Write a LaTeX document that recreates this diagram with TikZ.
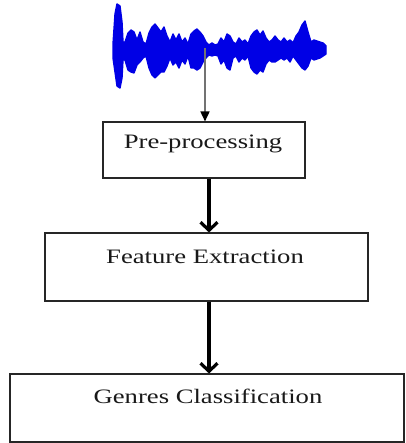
\documentclass[tikz,border=0pt]{standalone}
\usepackage{fontspec}
\setmainfont{Liberation Serif}
\usetikzlibrary{arrows.meta,shadows}
\begin{document}
\begin{tikzpicture}[x=1pt,y=-1pt,
  stagebox/.style={draw=black!85,line width=1.1pt,fill=white,inner sep=0pt,
     drop shadow={opacity=0.35,shadow xshift=1.2pt,shadow yshift=-1.2pt}},
  stagetext/.style={anchor=base,inner sep=0pt,text=black!90,font=\fontsize{20.5}{24}\selectfont},
  thinarrow/.style={draw=black!55,line width=1.6pt,-{Triangle[length=10pt,width=9pt,color=black]}},
  thickarrow/.style={draw=black,line width=3.6pt,-{Straight Barb[length=8pt,width=17pt,line width=3.2pt]}},
  wave/.style={fill=blue!90!black,draw=blue!90!black,line width=1.4pt,line join=round}]
\useasboundingbox (0,0) rectangle (405,443);
% waveform
\filldraw[wave] (113,44)--(115,14)--(117,4)--(120,6)--(122,22)--(123,42)--(125,42)--(128,33)--(131,30)--(134,32)--(137,40)--(140,32)--(143,42)--(146,44)--(149,33)--(152,27)--(155,24)--(158,28)--(161,32)--(164,27)--(167,36)--(170,42)--(173,34)--(176,40)--(179,34)--(182,42)--(185,38)--(188,44)--(191,34)--(194,31)--(197,29)--(200,32)--(203,36)--(206,42)--(209,45)--(212,43)--(215,45)--(218,44)--(221,38)--(224,42)--(227,34)--(230,36)--(233,42)--(236,44)--(239,38)--(242,42)--(245,40)--(248,44)--(251,36)--(254,32)--(257,30)--(260,35)--(263,31)--(266,38)--(269,42)--(272,40)--(275,36)--(278,40)--(281,42)--(284,38)--(287,42)--(290,40)--(293,43)--(296,36)--(299,32)--(302,25)--(305,21)--(308,32)--(311,42)--(314,40)--(317,41)--(320,42)--(323,43)--(326,46)
 --(326,54)--(323,56)--(320,58)--(317,59)--(314,60)--(311,58)--(308,66)--(305,70)--(302,68)--(299,64)--(296,60)--(293,56)--(290,62)--(287,58)--(284,60)--(281,58)--(278,60)--(275,62)--(272,62)--(269,60)--(266,64)--(263,72)--(260,70)--(257,74)--(254,72)--(251,68)--(248,56)--(245,60)--(242,58)--(239,62)--(236,56)--(233,58)--(230,70)--(227,68)--(224,60)--(221,64)--(218,56)--(215,55)--(212,56)--(209,55)--(206,58)--(203,62)--(200,68)--(197,70)--(194,68)--(191,68)--(188,56)--(185,64)--(182,60)--(179,68)--(176,62)--(173,65)--(170,58)--(167,66)--(164,72)--(161,72)--(158,75)--(155,78)--(152,75)--(149,68)--(146,56)--(143,58)--(140,62)--(137,65)--(134,73)--(131,72)--(128,70)--(125,60)--(123,60)--(122,78)--(120,88)--(117,86)--(115,72)--(113,58)--cycle;
\coordinate (wavetap) at (205,48);
% boxes
\node[stagebox,minimum width=202pt,minimum height=56pt] (pre) at (204,150) {};
\node[stagebox,minimum width=323pt,minimum height=68pt] (feat) at (206.5,267) {};
\node[stagebox,minimum width=394pt,minimum height=68pt] (genre) at (207,408) {};
% texts
\node[stagetext] (pretext) at (203,149) {\scalebox{1.3}[1]{Pre-processing}};
\node[stagetext] (feattext) at (205,263) {\scalebox{1.3}[1]{Feature Extraction}};
\node[stagetext] (genretext) at (208,403) {\scalebox{1.3}[1]{Genres Classification}};
% arrows
\draw[thinarrow] (wavetap) -- (wavetap |- pre.north);
\draw[thickarrow] ([xshift=5pt]pre.south) -- ([xshift=2.5pt]feat.north);
\draw[thickarrow] ([xshift=2.5pt]feat.south) -- ([xshift=2pt]genre.north);
\end{tikzpicture}
\end{document}
